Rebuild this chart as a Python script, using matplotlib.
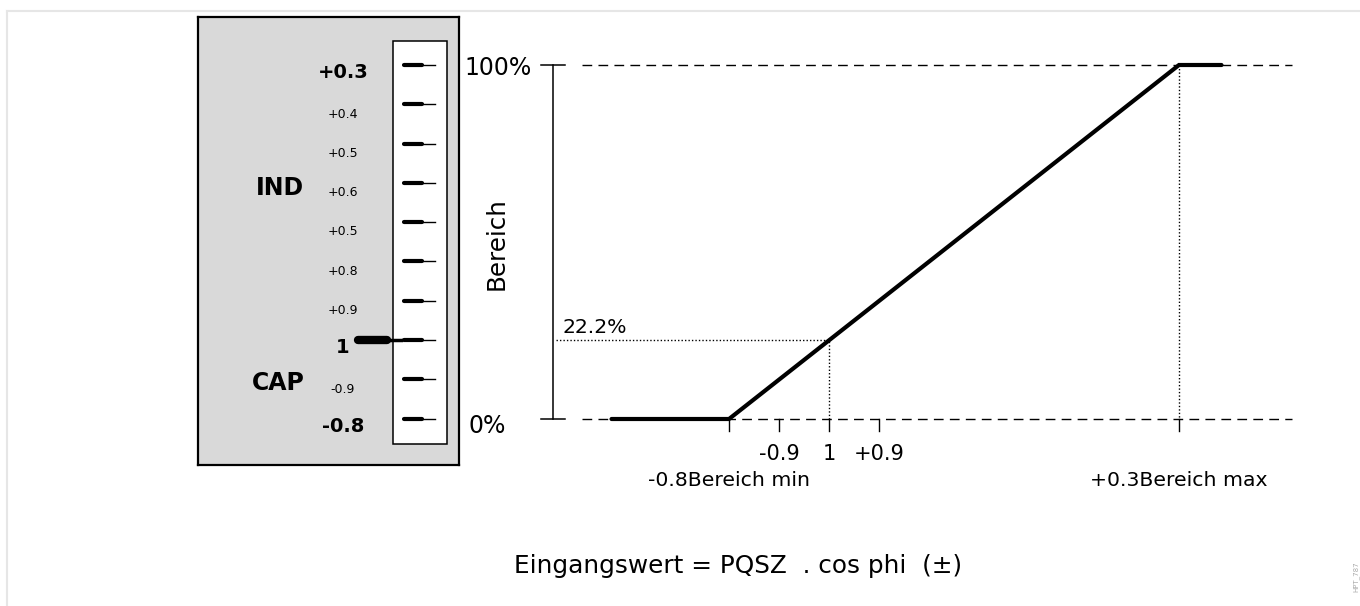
import numpy as np
import matplotlib
matplotlib.use("Agg")
import matplotlib.pyplot as plt
from matplotlib.patches import Rectangle
from matplotlib.lines import Line2D

# --- data -------------------------------------------------------------
# left panel: cos phi scale (top to bottom)
scale_labels = ['+0.3', '+0.4', '+0.5', '+0.6', '+0.5', '+0.8', '+0.9', '1', '-0.9', '-0.8']
scale_bold = [True, False, False, False, False, False, False, True, False, True]
pointer_idx = 7          # pointer sits on "1"

# right chart: characteristic (x = cos phi step, 1 -> 0, +0.9 -> 1, ..., -0.9 -> -1)
curve_x = [-4.35, -2, 7, 7.85]
curve_y = [0, 0, 100, 100]
range_min_x, range_max_x = -2, 7
range_min_label = '-0.8Bereich min'
range_max_label = '+0.3Bereich max'
pf_tick_x = [-1, 0, 1]
pf_tick_labels = ['-0.9', '1', '+0.9']
level_x = 0
level_pct = 22.2
pct_labels = ['0%', '100%']

W, H = 1360, 606
fig = plt.figure(figsize=(W / 100, H / 100), dpi=100)

# main axes spans the whole figure: 50 px per step, 3.54 px per percent
ax = fig.add_axes([0, 0, 1, 1])
ax.set_xlim(-829 / 50, (W - 829) / 50)
ax.set_ylim(-(H - 419) / 3.54, 419 / 3.54)
ax.axis('off')

# dashed 0% / 100% lines
for yv in (0, 100):
    ax.plot([-4.94, 9.26], [yv, yv], color='black', lw=1.0, dashes=(7, 4.5))

# y axis with end ticks
ax.plot([-5.52, -5.52], [0, 100], color='black', lw=1.1)
for yv in (0, 100):
    ax.plot([-5.76, -5.28], [yv, yv], color='black', lw=1.1)

# dotted guide lines
ax.plot([-5.46, level_x, level_x], [level_pct, level_pct, 0], color='black', lw=1.0, dashes=(1, 1.5))
ax.plot([range_max_x, range_max_x], [100, 0], color='black', lw=1.0, dashes=(1, 1.5))

# characteristic
ax.plot(curve_x, curve_y, color='black', lw=3.0, solid_capstyle='round', solid_joinstyle='miter')

# ticks under the 0% line
for xv in [range_min_x] + pf_tick_x + [range_max_x]:
    ax.plot([xv, xv], [0, -3.4], color='black', lw=1.0)

for xv, lab in zip(pf_tick_x, pf_tick_labels):
    ax.text(xv, -9.9, lab, ha='center', va='center', fontsize=15)
ax.text(range_min_x, -17.5, range_min_label, ha='center', va='center', fontsize=14.7)
ax.text(range_max_x, -17.5, range_max_label, ha='center', va='center', fontsize=14.7)

ax.text(-5.94, 100 - 0.8, pct_labels[1], ha='right', va='center', fontsize=17)
ax.text(-6.84, -2.0, pct_labels[0], ha='center', va='center', fontsize=17)
ax.text(-6.64, 49.5, 'Bereich', ha='center', va='center', rotation=90, fontsize=17.7)
ax.text(-5.34, level_pct + 3.6, f'{level_pct}%', ha='left', va='center', fontsize=14.7)

ax.text(-1.82, -41.6, 'Eingangswert = PQSZ  . cos phi  (\u00b1)', ha='center', va='center', fontsize=17.8)
ax.text(10.54, -44.6, 'HPT_787', ha='center', va='center', rotation=90, fontsize=5, color='#aaaaaa')

# light page frame
fig.add_artist(Line2D([7 / W, 7 / W], [0, 1 - 11 / H], transform=fig.transFigure, color='#e6e6e6', lw=1.5))
fig.add_artist(Line2D([7 / W, 1], [1 - 11 / H, 1 - 11 / H], transform=fig.transFigure, color='#e6e6e6', lw=1.5))

# --- left panel: cos phi scale ----------------------------------------
px0, py0, pw, ph = 198, 17, 261, 448
lax = fig.add_axes([px0 / W, 1 - (py0 + ph) / H, pw / W, ph / H])
step = 39.28
lax.set_xlim(0, pw)
lax.set_ylim((py0 + ph - 65) / step, (py0 - 65) / step)
lax.set_facecolor('#d9d9d9')
lax.set_xticks([])
lax.set_yticks([])
for sp in lax.spines.values():
    sp.set_linewidth(1.6)
    sp.set_color('black')

lax.add_patch(Rectangle((195, -0.612), 54, 10.25, facecolor='white', edgecolor='black', lw=1.1))

idx = np.arange(len(scale_labels))
for i, lab, bold in zip(idx, scale_labels, scale_bold):
    lax.plot([206, 224], [i, i], color='black', lw=3.0, solid_capstyle='round')
    lax.plot([224, 237], [i, i], color='black', lw=1.0)
    if bold:
        lax.text(145, i + 0.2, lab, ha='center', va='center', fontsize=14, fontweight='bold')
    else:
        lax.text(145, i + 0.25, lab, ha='center', va='center', fontsize=9)

lax.plot([160, 189], [pointer_idx, pointer_idx], color='black', lw=6, solid_capstyle='round')
lax.plot([189, 203], [pointer_idx, pointer_idx], color='black', lw=2.5)

lax.text(82, 3.12, 'IND', ha='center', va='center', fontsize=17, fontweight='bold')
lax.text(80, 8.1, 'CAP', ha='center', va='center', fontsize=17, fontweight='bold')

fig.savefig('out.png', dpi=100)
